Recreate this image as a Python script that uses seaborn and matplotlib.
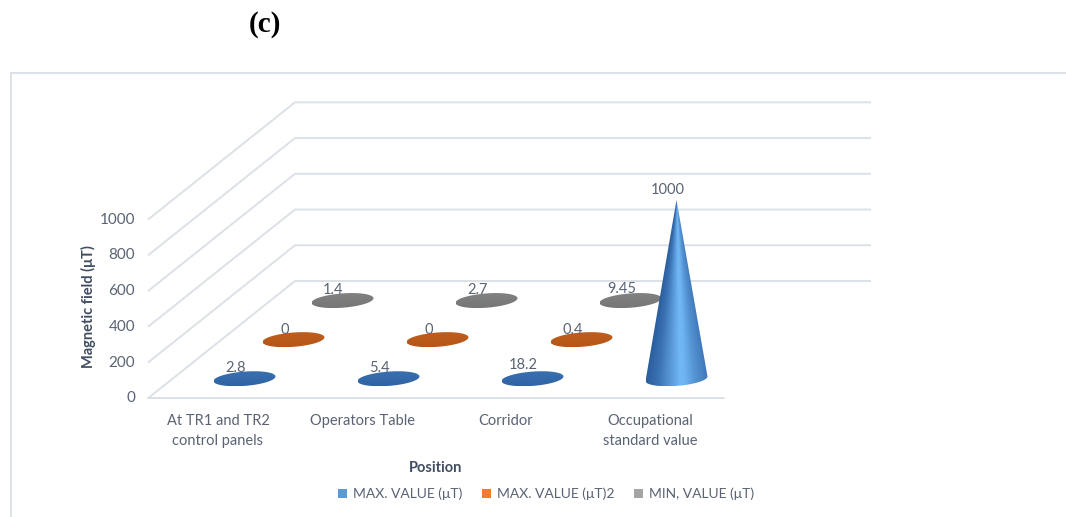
import numpy as np
import matplotlib
matplotlib.use("Agg")
import matplotlib.pyplot as plt
from matplotlib.patches import Patch, Polygon
from matplotlib.lines import Line2D
import seaborn as sns

# ---- data -------------------------------------------------------------
positions = ["At TR1 and TR2\ncontrol panels", "Operators Table", "Corridor",
             "Occupational\nstandard value"]
series_names = ["MAX. VALUE (μT)", "MAX. VALUE (μT)2", "MIN, VALUE (μT)"]
max_value = [2.8, 5.4, 18.2, 1000]
max_value2 = [0, 0, 0.4, np.nan]
min_value = [1.4, 2.7, 9.45, np.nan]
y_ticks = [0, 200, 400, 600, 800, 1000]

# ---- style ------------------------------------------------------------
sns.set_theme(style="white")
plt.rcParams["font.family"] = ["Lato", "DejaVu Sans"]
legend_colors = sns.color_palette(["#5B9BD5", "#ED7D31", "#A5A5A5"])
shade_dark = ["#27599A", "#AE4F10", "#6E6E6E"]
shade_light = ["#76BDFB", "#F39250", "#C2C2C2"]
TICK_C = "#5A6373"
TITLE_C = "#414D60"
GRID_C = "#DCE1E8"

W, H, DPI = 1066, 517, 100
fig = plt.figure(figsize=(W / DPI, H / DPI), dpi=DPI)
ax = fig.add_axes([0, 0, 1, 1])
ax.set_axis_off()

# oblique projection of the 3-D plot box onto the page
CAT_PX = 144.0            # pixels per category on the front plane
VAL_PX = 0.1787           # pixels per unit of value
X0_PX, Y0_PX = 148.0, 398.3
DEPTH_DX_PX, DEPTH_DY_PX = 147.0, 117.3
DX = DEPTH_DX_PX / CAT_PX
DV = DEPTH_DY_PX / VAL_PX
XLIM = (-X0_PX / CAT_PX, (W - X0_PX) / CAT_PX)
YLIM = (-(H - Y0_PX) / VAL_PX, Y0_PX / VAL_PX)


def project(x, depth, v):
    return x + depth * DX, v + depth * DV


def px_to_pt(p):
    return p * 72.0 / DPI


n_cat = len(positions)

# walls: gridlines run up the side wall and across the back wall
for v in y_ticks:
    xs, vs = zip(project(0, 0, v), project(0, 1, v), project(n_cat, 1, v))
    ax.plot(xs, vs, color=GRID_C, lw=1.4, zorder=1, solid_capstyle="butt")
# front edge of the floor
ax.plot([0, n_cat], [0, 0], color=GRID_C, lw=1.4, zorder=1)

# value ticks on the front-left edge
for v in y_ticks:
    ax.annotate(f"{v}", (0, v), xytext=(px_to_pt(-13), 0),
                textcoords="offset points", ha="right", va="center",
                fontsize=11, color=TICK_C)

# category labels under the front edge
for i, lab in enumerate(positions):
    ax.annotate(lab, (i + 0.5, 0), xytext=(px_to_pt(-2), px_to_pt(-16)),
                textcoords="offset points", ha="center", va="top",
                fontsize=10.5, color=TICK_C, linespacing=1.55)

# ---- cones ------------------------------------------------------------
R_PX = 29.5                    # base radius across, pixels
R_X = R_PX / CAT_PX            # base radius in category units
R_D = 0.064                    # base radius in depth fraction


def convex_hull(points):
    pts = sorted(map(tuple, points))

    def cross(o, a, b):
        return (a[0] - o[0]) * (b[1] - o[1]) - (a[1] - o[1]) * (b[0] - o[0])

    lower, upper = [], []
    for p in pts:
        while len(lower) >= 2 and cross(lower[-2], lower[-1], p) <= 0:
            lower.pop()
        lower.append(p)
    for p in reversed(pts):
        while len(upper) >= 2 and cross(upper[-2], upper[-1], p) <= 0:
            upper.pop()
        upper.append(p)
    return np.array(lower[:-1] + upper[:-1])


def hex_rgb(c):
    return np.array(matplotlib.colors.to_rgb(c))


def draw_cone(x, depth, value, dark, light, z):
    t = np.linspace(0, 2 * np.pi, 361)
    bx, bv = project(x + R_X * np.cos(t), depth + R_D * np.sin(t), 0.0)
    tx, tv = project(x, depth, value)
    cx, cv = project(x, depth, 0.0)

    hull = convex_hull(np.column_stack([np.append(bx, tx), np.append(bv, tv)]))
    outline = Polygon(hull, closed=True, facecolor="none", edgecolor="none")
    ax.add_patch(outline)

    x0, x1 = bx.min(), bx.max()
    v0, v1 = bv.min(), max(bv.max(), tv)
    gx, gv = np.meshgrid(np.linspace(x0, x1, 240), np.linspace(v0, v1, 480))
    halfw = 0.5 * (x1 - x0)
    if tv - cv > 1e-9:
        frac = np.clip((tv - gv) / (tv - cv), 1e-3, 1.0)
    else:
        frac = np.ones_like(gv)
    u = np.clip((gx - cx) / (halfw * frac), -1, 1)
    # light falls from the front, slightly from the right
    side = np.interp(u, [-1.0, -0.6, -0.2, 0.1, 0.25, 0.6, 1.0],
                     [0.04, 0.26, 0.66, 0.96, 0.93, 0.58, 0.32])
    w = np.clip((gv - cv) / (R_D * DV), -1, 1)
    top = 0.17 + 0.07 * w
    h = value * VAL_PX / R_PX
    steep = h * h / (1 + h * h)
    s = steep * side + (1 - steep) * top
    d, l = hex_rgb(dark), hex_rgb(light)
    rgb = d[None, None, :] + (l - d)[None, None, :] * s[:, :, None]
    im = ax.imshow(rgb, extent=(x0, x1, v0, v1), origin="lower", aspect="auto",
                   interpolation="bilinear", zorder=z)
    im.set_clip_path(outline)
    return tx, tv


series = [max_value, max_value2, min_value]
row_depth = [(k + 0.5) / len(series) for k in range(len(series))]

# back rows first so the front row overlaps them
for k in reversed(range(len(series))):
    for i, val in enumerate(series[k]):
        if np.isnan(val):
            continue
        tx, tv = draw_cone(i + 0.5, row_depth[k], val,
                           shade_dark[k], shade_light[k], z=3 + (2 - k))
        ax.annotate(f"{val:g}", (tx, tv), xytext=(px_to_pt(-9), px_to_pt(10)),
                    textcoords="offset points", ha="center", va="center",
                    fontsize=10.5, color=TICK_C, zorder=10)

ax.set_xlim(*XLIM)
ax.set_ylim(*YLIM)

# ---- titles, legend, frame -----------------------------------------------
fig.text(265 / W, 1 - 25 / H, "(c)", ha="center", va="center",
         fontsize=21, fontweight="bold", family="Liberation Serif", color="black")
fig.text(88 / W, 1 - 307 / H, "Magnetic field (μT)", rotation=90,
         ha="center", va="center", fontsize=10.5, fontweight="bold", color=TITLE_C)
fig.text(436 / W, 1 - 468 / H, "Position", ha="center", va="center",
         fontsize=10.5, fontweight="bold", color=TITLE_C)

handles = [Patch(facecolor=c, edgecolor="none") for c in legend_colors]
leg = fig.legend(handles, series_names, loc="center", ncol=3,
                 bbox_to_anchor=(546 / W, 1 - 494 / H), frameon=False,
                 fontsize=10, handlelength=0.65, handleheight=0.65,
                 handletextpad=0.45, columnspacing=1.4)
for txt in leg.get_texts():
    txt.set_color(TICK_C)

frame_c = "#DADFE6"
fig.add_artist(Line2D([11 / W, 1], [1 - 72.7 / H, 1 - 72.7 / H],
                      transform=fig.transFigure, color=frame_c, lw=1.3))
fig.add_artist(Line2D([11 / W, 11 / W], [1 - 72.7 / H, 0],
                      transform=fig.transFigure, color=frame_c, lw=1.3))

fig.savefig("out.png", dpi=DPI)
